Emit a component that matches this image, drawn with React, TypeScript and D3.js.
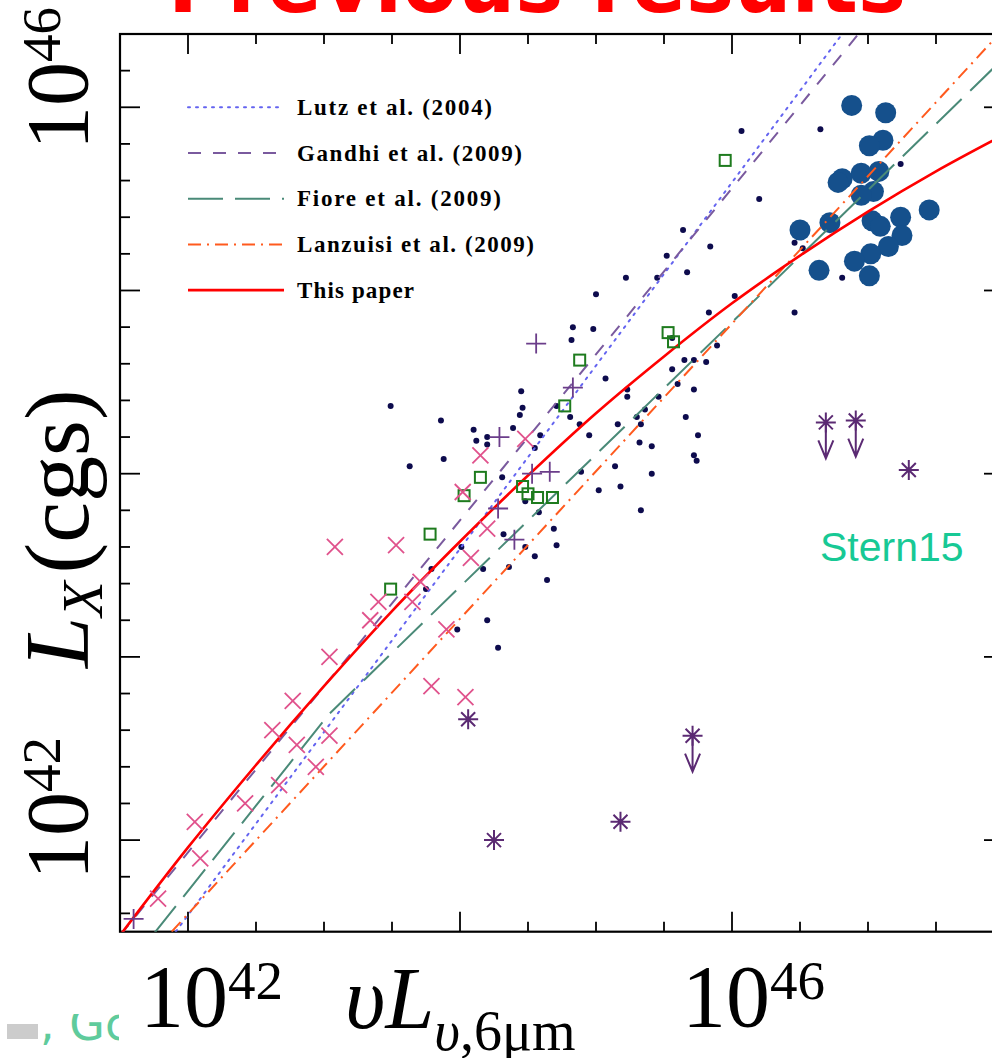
import React from "react";
import * as d3 from "d3";

// ---------- data (log10 values: [log nuL_6um, log L_X]) ----------
const smallDots: [number, number][] = [
  [43.49, 44.37], [43.86, 44.29], [44.1, 44.24], [44.12, 44.18], [44.2, 44.2], [44.2, 44.16],
  [43.63, 44.04], [43.88, 44.08], [44.45, 44.45], [44.46, 44.36], [44.44, 44.32], [44.39, 44.25],
  [44.59, 44.21], [44.55, 44.14], [44.31, 43.98], [44.48, 43.85], [44.58, 43.79], [44.32, 43.67],
  [44.01, 43.6], [44.48, 43.6], [44.55, 43.55], [44.17, 43.48], [44.36, 43.49], [44.64, 43.42],
  [43.79, 43.48], [43.75, 43.37], [44.2, 43.2], [43.98, 43.15], [44.28, 43.05],
  [44.83, 44.8], [44.98, 44.79], [44.82, 44.73], [45.56, 44.74], [45.89, 44.7], [45.65, 44.62],
  [45.72, 44.62], [45.81, 44.61], [45.56, 44.57], [45.07, 44.52], [45.6, 44.49], [45.72, 44.46],
  [45.23, 44.46], [45.23, 44.42], [45.46, 44.42], [45.36, 44.35], [45.3, 44.31], [45.66, 44.31],
  [44.81, 44.31], [45.33, 44.27], [45.16, 44.27], [44.88, 44.27], [44.71, 44.37], [44.95, 44.21],
  [45.75, 44.21], [45.32, 44.17], [45.41, 44.15], [45.72, 44.1], [45.74, 44.07], [45.14, 44.04],
  [44.89, 44.01], [45.41, 44.0], [45.18, 43.93], [45.02, 43.91], [45.33, 43.8], [44.69, 43.7],
  [44.71, 43.61],
  [46.07, 45.87], [46.65, 45.88], [46.2, 45.5], [45.64, 45.33], [45.84, 45.24], [45.52, 45.19],
  [45.22, 45.07], [45.45, 45.07], [45.67, 45.1], [45.0, 44.98], [46.02, 44.97], [45.83, 44.88],
  [46.46, 44.88], [47.24, 45.69], [47.26, 45.37], [46.81, 45.07], [46.46, 45.26], [46.52, 45.23],
  [46.51, 45.29],
];

const bigCircles: [number, number][] = [
  [46.88, 46.01], [47.13, 45.97], [47.11, 45.82], [47.01, 45.79], [46.81, 45.61], [46.78, 45.59],
  [46.95, 45.64], [47.08, 45.65], [47.04, 45.54], [46.95, 45.52], [47.45, 45.44], [47.24, 45.4],
  [47.03, 45.38], [47.09, 45.35], [47.25, 45.3], [47.15, 45.24], [46.5, 45.33], [46.72, 45.37],
  [46.64, 45.11], [47.02, 45.2], [46.9, 45.16], [47.01, 45.08],
];

const greenSquares: [number, number][] = [
  [45.95, 45.71], [45.53, 44.77], [45.57, 44.72], [44.88, 44.62], [44.77, 44.37], [44.15, 43.98],
  [44.03, 43.88], [44.46, 43.93], [44.5, 43.89], [44.57, 43.87], [44.68, 43.87], [43.78, 43.67],
  [43.49, 43.37],
];

const pinkCrosses: [number, number][] = [
  [43.08, 43.6], [43.53, 43.61], [44.15, 44.1], [44.02, 43.9], [44.48, 44.19], [44.2, 43.7],
  [44.08, 43.54], [43.4, 43.3], [43.34, 43.2], [43.65, 43.3], [43.9, 43.15], [43.71, 43.41],
  [43.04, 43.0], [42.77, 42.76], [42.62, 42.6], [42.8, 42.52], [42.42, 42.2], [42.67, 42.3],
  [42.94, 42.4], [43.04, 42.57], [42.05, 42.1], [42.09, 41.9], [41.78, 41.68], [43.79, 42.84],
  [44.04, 42.78],
];

const purplePlus: [number, number][] = [
  [44.56, 44.71], [44.29, 44.2], [44.53, 44.0], [44.66, 44.01], [44.28, 43.81], [44.4, 43.64],
  [44.83, 44.47], [41.6, 41.57],
];

// [x, y, upperLimit]
const sternPoints: [number, number, number][] = [
  [46.69, 44.28, 1], [46.91, 44.29, 1], [47.3, 44.02, 0], [44.06, 42.66, 0],
  [44.25, 42.0, 0], [45.18, 42.1, 0], [45.71, 42.57, 1],
];

// relations
const lutzLine: [number, number][] = [[41.91, 41.5], [46.81, 46.4]];
const gandhiLine: [number, number][] = [[41.5, 41.48], [46.93, 46.4]];
const fioreLine: [number, number][] = [[41.75, 41.49], [43.04, 42.69], [48.0, 46.27]];
const lanzuisiLine: [number, number][] = [[41.88, 41.5], [48.0, 46.43]];
const thisPaperLine: [number, number][] = [
  [41.5, 41.48], [42.0, 41.96], [42.5, 42.41], [43.0, 42.84], [43.5, 43.25], [44.0, 43.63],
  [44.5, 43.99], [45.0, 44.33], [45.5, 44.64], [46.0, 44.93], [46.5, 45.19], [47.0, 45.43],
  [47.5, 45.65], [48.0, 45.85],
];

const legendLabels = [
  "Lutz et al. (2004)",
  "Gandhi et al. (2009)",
  "Fiore et al. (2009)",
  "Lanzuisi et al. (2009)",
  "This paper",
];

const xTickValues = d3.range(42, 48, 0.5);
const yTickValues = d3.range(41.6, 46.39, 0.2);

// ---------- styles ----------
const lineStyles = [
  { color: "#6464f0", dash: "2,6", width: 2 },
  { color: "#7a5a9e", dash: "13,12", width: 2 },
  { color: "#4a8a78", dash: "35,12", width: 2 },
  { color: "#ff5a1e", dash: "13,6,2,6", width: 2 },
  { color: "#ff0000", dash: "", width: 2.6 },
];
const legendWidths = [195, 225, 204, 237, 117];

export default function App() {
  const W = 992, H = 1058;
  const L = 120, R = 1004, T = 34, B = 931.7;
  const x = d3.scaleLinear().domain([41.5, 48]).range([L, R]);
  const y = d3.scaleLinear().domain([41.5, 46.4]).range([B, T]);
  const line = d3.line<[number, number]>().x((d) => x(d[0])).y((d) => y(d[1]));
  const curve = d3
    .line<[number, number]>()
    .x((d) => x(d[0]))
    .y((d) => y(d[1]))
    .curve(d3.curveMonotoneX);

  const relations = [lutzLine, gandhiLine, fioreLine, lanzuisiLine, thisPaperLine];
  const isMajorX = (v: number) => Math.abs(v / 2 - Math.round(v / 2)) < 1e-6;
  const isMajorY = (v: number) => Math.abs(v - Math.round(v)) < 1e-6;

  const serif = "'Liberation Serif', 'Times New Roman', serif";

  return (
    <svg
      width={W}
      height={H}
      viewBox={`0 0 ${W} ${H}`}
      style={{ position: "absolute", left: 0, top: 0, background: "#fff" }}
    >
      <defs>
        <clipPath id="plotClip">
          <rect x={L} y={T} width={R - L} height={B - T} />
        </clipPath>
        <clipPath id="artClip">
          <rect x={0} y={1014} width={119} height={44} />
        </clipPath>
      </defs>
      <rect x={0} y={0} width={W} height={H} fill="#fff" />

      {/* title (cut off at top) */}
      <text
        x={168}
        y={12}
        fontFamily="'DejaVu Sans', Verdana, sans-serif"
        fontWeight="bold"
        fontSize={84}
        fill="#ff0000"
        textLength={738}
        lengthAdjust="spacingAndGlyphs"
      >
        Previous results
      </text>

      {/* frame */}
      <rect x={L} y={T} width={R - L} height={B - T} fill="none" stroke="#000" strokeWidth={2.2} />

      {/* x ticks bottom & top */}
      {xTickValues.map((v, i) => {
        const len = isMajorX(v) ? 20 : 10;
        return (
          <g key={"xt" + i} stroke="#000" strokeWidth={1.8}>
            <line x1={x(v)} x2={x(v)} y1={B} y2={B - len} />
            <line x1={x(v)} x2={x(v)} y1={T} y2={T + len} />
          </g>
        );
      })}
      {/* y ticks left & right */}
      {yTickValues.map((v, i) => {
        const len = isMajorY(v) ? 20 : 10;
        return (
          <g key={"yt" + i} stroke="#000" strokeWidth={1.8}>
            <line x1={L} x2={L + len} y1={y(v)} y2={y(v)} />
            <line x1={R} x2={R - len} y1={y(v)} y2={y(v)} />
          </g>
        );
      })}

      <g clipPath="url(#plotClip)">
        {/* small dots */}
        {smallDots.map((d, i) => (
          <circle key={"sd" + i} cx={x(d[0])} cy={y(d[1])} r={3} fill="#0d0b4d" />
        ))}
        {/* big circles */}
        {bigCircles.map((d, i) => (
          <circle key={"bc" + i} cx={x(d[0])} cy={y(d[1])} r={10.5} fill="#15508c" />
        ))}
        {/* relations */}
        {relations.map((pts, i) => (
          <path
            key={"rel" + i}
            d={(i === 4 ? curve(pts) : line(pts)) || ""}
            fill="none"
            stroke={lineStyles[i].color}
            strokeWidth={lineStyles[i].width}
            strokeDasharray={lineStyles[i].dash || undefined}
            strokeLinecap={i === 0 ? "round" : "butt"}
          />
        ))}
        {/* green squares */}
        {greenSquares.map((d, i) => (
          <rect
            key={"gs" + i}
            x={x(d[0]) - 5.5}
            y={y(d[1]) - 5.5}
            width={11}
            height={11}
            fill="none"
            stroke="#1e7b1e"
            strokeWidth={2}
          />
        ))}
        {/* pink crosses */}
        {pinkCrosses.map((d, i) => (
          <path
            key={"pc" + i}
            transform={`translate(${x(d[0])},${y(d[1])})`}
            d="M-8,-8L8,8M-8,8L8,-8"
            stroke="#e0528c"
            strokeWidth={1.8}
            fill="none"
          />
        ))}
        {/* purple plus */}
        {purplePlus.map((d, i) => (
          <path
            key={"pp" + i}
            transform={`translate(${x(d[0])},${y(d[1])})`}
            d="M-10,0H10M0,-10V10"
            stroke="#6b3d8a"
            strokeWidth={1.8}
            fill="none"
          />
        ))}
        {/* Stern15 asterisks */}
        {sternPoints.map((d, i) => (
          <g
            key={"st" + i}
            transform={`translate(${x(d[0])},${y(d[1])})`}
            stroke="#5b2a73"
            strokeWidth={2}
            fill="none"
          >
            <path d="M-10,0H10M0,-10V10M-7,-7L7,7M-7,7L7,-7" />
            {d[2] ? <path d="M0,0V36M-7.5,18L0,36L7.5,18" /> : null}
          </g>
        ))}
      </g>

      {/* legend */}
      {legendLabels.map((lab, i) => {
        const ly = 107.3 + i * 45.7;
        const st = lineStyles[i];
        return (
          <g key={"lg" + i}>
            <line
              x1={188}
              x2={284}
              y1={ly}
              y2={ly}
              stroke={st.color}
              strokeWidth={st.width}
              strokeDasharray={st.dash || undefined}
              strokeLinecap={i === 0 ? "round" : "butt"}
            />
            <text
              x={297}
              y={ly + 7.7}
              fontFamily={serif}
              fontWeight="bold"
              fontSize={23}
              fill="#000"
              textLength={legendWidths[i]}
              lengthAdjust="spacing"
            >
              {lab}
            </text>
          </g>
        );
      })}

      {/* Stern15 label */}
      <text
        x={820}
        y={561}
        fontFamily="'Liberation Sans', Arial, sans-serif"
        fontSize={41}
        fill="#17c995"
      >
        Stern15
      </text>

      {/* x tick labels */}
      <text x={140} y={1026} fontFamily={serif} fontSize={88} fill="#000">
        10<tspan fontSize={55} dy={-27}>42</tspan>
      </text>
      <text x={682} y={1026} fontFamily={serif} fontSize={88} fill="#000">
        10<tspan fontSize={55} dy={-27}>46</tspan>
      </text>

      {/* x axis title */}
      <text x={345} y={1028} fontFamily={serif} fontSize={88} fill="#000">
        <tspan fontStyle="italic">υL</tspan>
        <tspan fontSize={56} dy={22} fontStyle="italic">υ</tspan>
        <tspan fontSize={56}>,6μm</tspan>
      </text>

      {/* y tick labels (rotated) */}
      <text transform="translate(87,150) rotate(-90)" fontFamily={serif} fontSize={88} fill="#000">
        10<tspan fontSize={55} dy={-27}>46</tspan>
      </text>
      <text transform="translate(87,880) rotate(-90)" fontFamily={serif} fontSize={88} fill="#000">
        10<tspan fontSize={55} dy={-27}>42</tspan>
      </text>

      {/* y axis title */}
      <text transform="translate(88,668) rotate(-90)" fontFamily={serif} fontSize={92} fill="#000">
        <tspan fontStyle="italic">L</tspan>
        <tspan fontStyle="italic" fontSize={58} dy={14}>X</tspan>
        <tspan dy={-14} dx={8}>(cgs)</tspan>
      </text>

      {/* slide artifact at bottom-left */}
      <rect x={7} y={1024} width={31} height={15} fill="#cccccc" />
      <g clipPath="url(#artClip)">
        <text
          x={40}
          y={1040}
          fontFamily="'DejaVu Sans', sans-serif"
          fontSize={46}
          fill="#5fcb9c"
        >
          , Gc
        </text>
      </g>
    </svg>
  );
}
